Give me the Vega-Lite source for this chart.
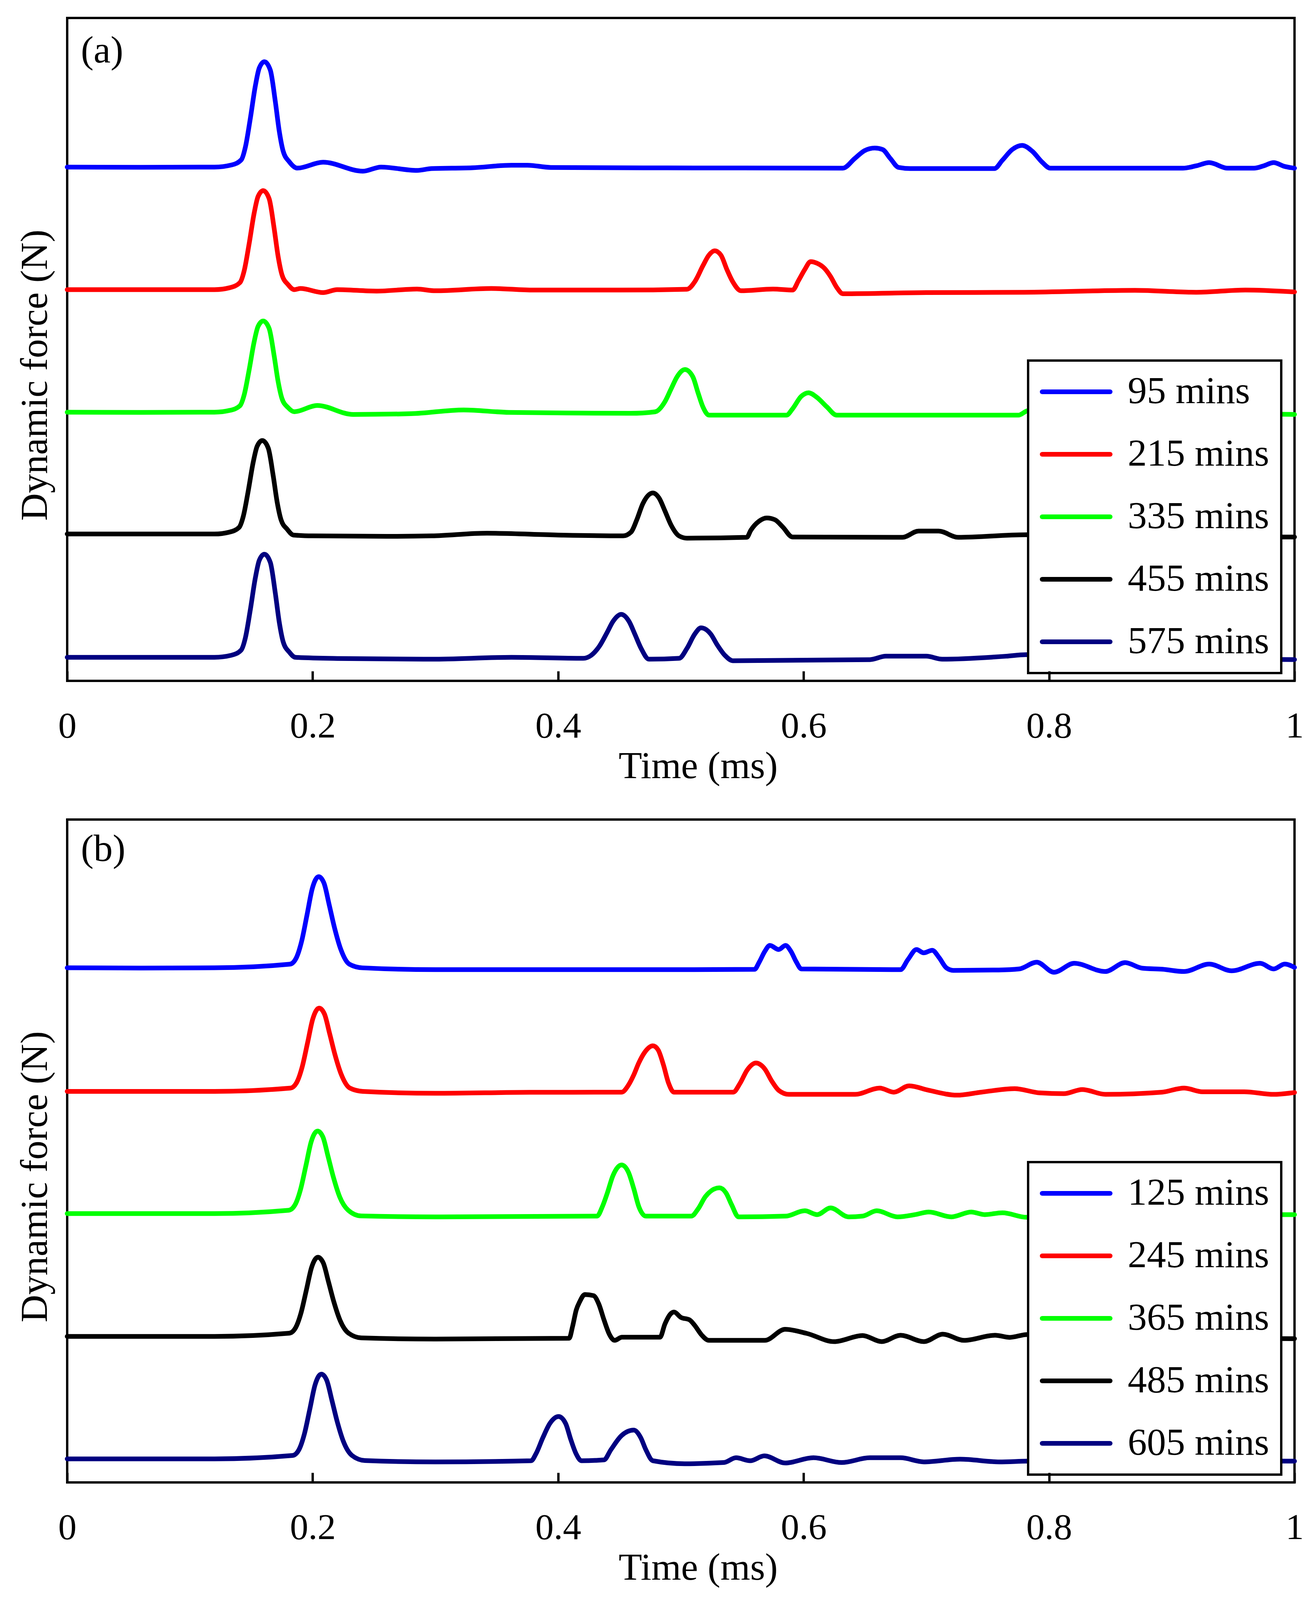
{
  "$schema": "https://vega.github.io/schema/vega-lite/v6.json",
  "usermeta": {"embedOptions": {"actions": false}},
  "background": "white",
  "padding": {"left": 38, "top": 43, "right": 56, "bottom": 30},
  "spacing": 81,
  "config": {
    "font": "Liberation Serif",
    "view": {"stroke": "black", "strokeWidth": 6},
    "axis": {"labelFont": "Liberation Serif", "titleFont": "Liberation Serif", "labelColor": "black", "titleColor": "black", "titleFontWeight": "normal", "grid": false, "domain": false},
    "legend": {"labelFont": "Liberation Serif"}
  },
  "resolve": {"scale": {"color": "independent"}, "legend": {"color": "independent"}},
  "datasets": {
    "a": [
      {"s":"95 mins","t":0,"f":7.751},{"s":"95 mins","t":0.06,"f":7.748},{"s":"95 mins","t":0.12,"f":7.751},{"s":"95 mins","t":0.134,"f":7.783},{"s":"95 mins","t":0.1419,"f":7.862},{"s":"95 mins","t":0.1452,"f":8.053},{"s":"95 mins","t":0.1492,"f":8.482},{"s":"95 mins","t":0.1533,"f":8.975},{"s":"95 mins","t":0.1565,"f":9.245},{"s":"95 mins","t":0.1607,"f":9.34},{"s":"95 mins","t":0.1655,"f":9.213},{"s":"95 mins","t":0.1696,"f":8.736},{"s":"95 mins","t":0.1728,"f":8.291},{"s":"95 mins","t":0.176,"f":7.989},{"s":"95 mins","t":0.181,"f":7.83},{"s":"95 mins","t":0.1875,"f":7.735},{"s":"95 mins","t":0.2085,"f":7.824},{"s":"95 mins","t":0.241,"f":7.689},{"s":"95 mins","t":0.2557,"f":7.751},{"s":"95 mins","t":0.285,"f":7.7},{"s":"95 mins","t":0.297,"f":7.728},{"s":"95 mins","t":0.33,"f":7.74},{"s":"95 mins","t":0.362,"f":7.779},{"s":"95 mins","t":0.375,"f":7.779},{"s":"95 mins","t":0.394,"f":7.745},{"s":"95 mins","t":0.45,"f":7.74},{"s":"95 mins","t":0.55,"f":7.737},{"s":"95 mins","t":0.632,"f":7.734},{"s":"95 mins","t":0.6417,"f":7.88},{"s":"95 mins","t":0.6497,"f":7.999},{"s":"95 mins","t":0.658,"f":8.038},{"s":"95 mins","t":0.6643,"f":8.016},{"s":"95 mins","t":0.6707,"f":7.88},{"s":"95 mins","t":0.6774,"f":7.745},{"s":"95 mins","t":0.687,"f":7.728},{"s":"95 mins","t":0.7555,"f":7.728},{"s":"95 mins","t":0.7619,"f":7.852},{"s":"95 mins","t":0.77,"f":8.016},{"s":"95 mins","t":0.778,"f":8.078},{"s":"95 mins","t":0.7864,"f":7.988},{"s":"95 mins","t":0.7944,"f":7.824},{"s":"95 mins","t":0.801,"f":7.734},{"s":"95 mins","t":0.85,"f":7.734},{"s":"95 mins","t":0.909,"f":7.734},{"s":"95 mins","t":0.92,"f":7.77},{"s":"95 mins","t":0.9305,"f":7.818},{"s":"95 mins","t":0.9455,"f":7.734},{"s":"95 mins","t":0.967,"f":7.734},{"s":"95 mins","t":0.975,"f":7.77},{"s":"95 mins","t":0.983,"f":7.818},{"s":"95 mins","t":0.992,"f":7.76},{"s":"95 mins","t":1,"f":7.734},
      {"s":"215 mins","t":0,"f":5.902},{"s":"215 mins","t":0.06,"f":5.902},{"s":"215 mins","t":0.12,"f":5.902},{"s":"215 mins","t":0.1327,"f":5.932},{"s":"215 mins","t":0.1407,"f":6.007},{"s":"215 mins","t":0.1442,"f":6.186},{"s":"215 mins","t":0.1482,"f":6.589},{"s":"215 mins","t":0.1523,"f":7.052},{"s":"215 mins","t":0.1555,"f":7.306},{"s":"215 mins","t":0.1597,"f":7.396},{"s":"215 mins","t":0.1645,"f":7.276},{"s":"215 mins","t":0.1686,"f":6.828},{"s":"215 mins","t":0.1718,"f":6.41},{"s":"215 mins","t":0.175,"f":6.126},{"s":"215 mins","t":0.18,"f":5.977},{"s":"215 mins","t":0.185,"f":5.902},{"s":"215 mins","t":0.19,"f":5.919},{"s":"215 mins","t":0.2085,"f":5.857},{"s":"215 mins","t":0.22,"f":5.902},{"s":"215 mins","t":0.252,"f":5.88},{"s":"215 mins","t":0.285,"f":5.91},{"s":"215 mins","t":0.3,"f":5.885},{"s":"215 mins","t":0.3456,"f":5.919},{"s":"215 mins","t":0.38,"f":5.895},{"s":"215 mins","t":0.45,"f":5.895},{"s":"215 mins","t":0.505,"f":5.908},{"s":"215 mins","t":0.5113,"f":6.02},{"s":"215 mins","t":0.518,"f":6.263},{"s":"215 mins","t":0.5228,"f":6.421},{"s":"215 mins","t":0.5276,"f":6.488},{"s":"215 mins","t":0.5327,"f":6.421},{"s":"215 mins","t":0.5375,"f":6.206},{"s":"215 mins","t":0.5423,"f":6.02},{"s":"215 mins","t":0.549,"f":5.885},{"s":"215 mins","t":0.575,"f":5.91},{"s":"215 mins","t":0.591,"f":5.895},{"s":"215 mins","t":0.596,"f":6.043},{"s":"215 mins","t":0.601,"f":6.206},{"s":"215 mins","t":0.6057,"f":6.325},{"s":"215 mins","t":0.6107,"f":6.302},{"s":"215 mins","t":0.617,"f":6.223},{"s":"215 mins","t":0.622,"f":6.099},{"s":"215 mins","t":0.627,"f":5.936},{"s":"215 mins","t":0.632,"f":5.84},{"s":"215 mins","t":0.7,"f":5.857},{"s":"215 mins","t":0.78,"f":5.862},{"s":"215 mins","t":0.87,"f":5.891},{"s":"215 mins","t":0.92,"f":5.862},{"s":"215 mins","t":0.96,"f":5.896},{"s":"215 mins","t":1,"f":5.867},
      {"s":"335 mins","t":0,"f":4.053},{"s":"335 mins","t":0.06,"f":4.05},{"s":"335 mins","t":0.12,"f":4.053},{"s":"335 mins","t":0.1327,"f":4.081},{"s":"335 mins","t":0.1407,"f":4.149},{"s":"335 mins","t":0.1442,"f":4.314},{"s":"335 mins","t":0.1482,"f":4.686},{"s":"335 mins","t":0.1523,"f":5.112},{"s":"335 mins","t":0.1555,"f":5.346},{"s":"335 mins","t":0.1597,"f":5.428},{"s":"335 mins","t":0.1645,"f":5.318},{"s":"335 mins","t":0.1686,"f":4.906},{"s":"335 mins","t":0.1718,"f":4.521},{"s":"335 mins","t":0.175,"f":4.259},{"s":"335 mins","t":0.18,"f":4.122},{"s":"335 mins","t":0.185,"f":4.06},{"s":"335 mins","t":0.2037,"f":4.154},{"s":"335 mins","t":0.233,"f":4.019},{"s":"335 mins","t":0.28,"f":4.03},{"s":"335 mins","t":0.323,"f":4.087},{"s":"335 mins","t":0.36,"f":4.05},{"s":"335 mins","t":0.42,"f":4.04},{"s":"335 mins","t":0.459,"f":4.036},{"s":"335 mins","t":0.479,"f":4.059},{"s":"335 mins","t":0.487,"f":4.211},{"s":"335 mins","t":0.492,"f":4.402},{"s":"335 mins","t":0.497,"f":4.589},{"s":"335 mins","t":0.5033,"f":4.696},{"s":"335 mins","t":0.5097,"f":4.589},{"s":"335 mins","t":0.514,"f":4.346},{"s":"335 mins","t":0.518,"f":4.132},{"s":"335 mins","t":0.523,"f":4.008},{"s":"335 mins","t":0.586,"f":4.008},{"s":"335 mins","t":0.591,"f":4.104},{"s":"335 mins","t":0.598,"f":4.29},{"s":"335 mins","t":0.604,"f":4.346},{"s":"335 mins","t":0.6107,"f":4.279},{"s":"335 mins","t":0.619,"f":4.132},{"s":"335 mins","t":0.627,"f":4.008},{"s":"335 mins","t":0.7,"f":4.008},{"s":"335 mins","t":0.775,"f":4.008},{"s":"335 mins","t":0.783,"f":4.076},{"s":"335 mins","t":0.83,"f":4.05},{"s":"335 mins","t":0.95,"f":4.03},{"s":"335 mins","t":1,"f":4.019},
      {"s":"455 mins","t":0,"f":2.215},{"s":"455 mins","t":0.06,"f":2.215},{"s":"455 mins","t":0.12,"f":2.215},{"s":"455 mins","t":0.132,"f":2.243},{"s":"455 mins","t":0.14,"f":2.314},{"s":"455 mins","t":0.1435,"f":2.483},{"s":"455 mins","t":0.1475,"f":2.864},{"s":"455 mins","t":0.1516,"f":3.301},{"s":"455 mins","t":0.1548,"f":3.54},{"s":"455 mins","t":0.159,"f":3.625},{"s":"455 mins","t":0.1638,"f":3.512},{"s":"455 mins","t":0.1679,"f":3.089},{"s":"455 mins","t":0.1711,"f":2.694},{"s":"455 mins","t":0.1743,"f":2.427},{"s":"455 mins","t":0.1793,"f":2.286},{"s":"455 mins","t":0.1843,"f":2.2},{"s":"455 mins","t":0.2,"f":2.187},{"s":"455 mins","t":0.26,"f":2.18},{"s":"455 mins","t":0.297,"f":2.187},{"s":"455 mins","t":0.342,"f":2.227},{"s":"455 mins","t":0.4,"f":2.2},{"s":"455 mins","t":0.453,"f":2.187},{"s":"455 mins","t":0.4594,"f":2.244},{"s":"455 mins","t":0.4641,"f":2.43},{"s":"455 mins","t":0.469,"f":2.672},{"s":"455 mins","t":0.4772,"f":2.835},{"s":"455 mins","t":0.4823,"f":2.756},{"s":"455 mins","t":0.487,"f":2.565},{"s":"455 mins","t":0.492,"f":2.351},{"s":"455 mins","t":0.4985,"f":2.187},{"s":"455 mins","t":0.505,"f":2.153},{"s":"455 mins","t":0.5537,"f":2.165},{"s":"455 mins","t":0.557,"f":2.272},{"s":"455 mins","t":0.5636,"f":2.407},{"s":"455 mins","t":0.57,"f":2.458},{"s":"455 mins","t":0.5767,"f":2.43},{"s":"455 mins","t":0.583,"f":2.322},{"s":"455 mins","t":0.591,"f":2.17},{"s":"455 mins","t":0.6806,"f":2.165},{"s":"455 mins","t":0.6937,"f":2.26},{"s":"455 mins","t":0.71,"f":2.26},{"s":"455 mins","t":0.726,"f":2.165},{"s":"455 mins","t":0.781,"f":2.204},{"s":"455 mins","t":0.85,"f":2.17},{"s":"455 mins","t":1,"f":2.17},
      {"s":"575 mins","t":0,"f":0.355},{"s":"575 mins","t":0.06,"f":0.355},{"s":"575 mins","t":0.12,"f":0.355},{"s":"575 mins","t":0.1337,"f":0.386},{"s":"575 mins","t":0.1417,"f":0.464},{"s":"575 mins","t":0.1452,"f":0.651},{"s":"575 mins","t":0.1492,"f":1.071},{"s":"575 mins","t":0.1533,"f":1.553},{"s":"575 mins","t":0.1565,"f":1.818},{"s":"575 mins","t":0.1607,"f":1.911},{"s":"575 mins","t":0.1655,"f":1.787},{"s":"575 mins","t":0.1696,"f":1.32},{"s":"575 mins","t":0.1728,"f":0.884},{"s":"575 mins","t":0.176,"f":0.588},{"s":"575 mins","t":0.181,"f":0.433},{"s":"575 mins","t":0.186,"f":0.355},{"s":"575 mins","t":0.22,"f":0.338},{"s":"575 mins","t":0.297,"f":0.327},{"s":"575 mins","t":0.362,"f":0.355},{"s":"575 mins","t":0.4205,"f":0.34},{"s":"575 mins","t":0.4268,"f":0.383},{"s":"575 mins","t":0.4335,"f":0.519},{"s":"575 mins","t":0.44,"f":0.733},{"s":"575 mins","t":0.4447,"f":0.896},{"s":"575 mins","t":0.4514,"f":1.003},{"s":"575 mins","t":0.4578,"f":0.896},{"s":"575 mins","t":0.4625,"f":0.705},{"s":"575 mins","t":0.4676,"f":0.49},{"s":"575 mins","t":0.474,"f":0.327},{"s":"575 mins","t":0.4986,"f":0.34},{"s":"575 mins","t":0.505,"f":0.49},{"s":"575 mins","t":0.5113,"f":0.705},{"s":"575 mins","t":0.5164,"f":0.8},{"s":"575 mins","t":0.5244,"f":0.705},{"s":"575 mins","t":0.5295,"f":0.547},{"s":"575 mins","t":0.536,"f":0.383},{"s":"575 mins","t":0.5423,"f":0.304},{"s":"575 mins","t":0.654,"f":0.32},{"s":"575 mins","t":0.667,"f":0.372},{"s":"575 mins","t":0.7,"f":0.372},{"s":"575 mins","t":0.713,"f":0.327},{"s":"575 mins","t":0.765,"f":0.372},{"s":"575 mins","t":0.781,"f":0.395},{"s":"575 mins","t":0.85,"f":0.35},{"s":"575 mins","t":1,"f":0.321}
    ],
    "b": [
      {"s":"125 mins","t":0,"f":7.763},{"s":"125 mins","t":0.06,"f":7.76},{"s":"125 mins","t":0.12,"f":7.763},{"s":"125 mins","t":0.1815,"f":7.818},{"s":"125 mins","t":0.1867,"f":7.914},{"s":"125 mins","t":0.191,"f":8.162},{"s":"125 mins","t":0.1954,"f":8.561},{"s":"125 mins","t":0.1997,"f":8.959},{"s":"125 mins","t":0.2049,"f":9.138},{"s":"125 mins","t":0.2092,"f":9.042},{"s":"125 mins","t":0.2135,"f":8.712},{"s":"125 mins","t":0.2178,"f":8.368},{"s":"125 mins","t":0.223,"f":8.038},{"s":"125 mins","t":0.2299,"f":7.818},{"s":"125 mins","t":0.2404,"f":7.763},{"s":"125 mins","t":0.3,"f":7.735},{"s":"125 mins","t":0.4,"f":7.735},{"s":"125 mins","t":0.5,"f":7.735},{"s":"125 mins","t":0.56,"f":7.74},{"s":"125 mins","t":0.564,"f":7.854},{"s":"125 mins","t":0.5684,"f":8.011},{"s":"125 mins","t":0.5725,"f":8.101},{"s":"125 mins","t":0.5797,"f":8.039},{"s":"125 mins","t":0.5853,"f":8.101},{"s":"125 mins","t":0.5897,"f":8.011},{"s":"125 mins","t":0.594,"f":7.854},{"s":"125 mins","t":0.5982,"f":7.746},{"s":"125 mins","t":0.679,"f":7.735},{"s":"125 mins","t":0.685,"f":7.887},{"s":"125 mins","t":0.692,"f":8.039},{"s":"125 mins","t":0.6978,"f":7.989},{"s":"125 mins","t":0.7048,"f":8.028},{"s":"125 mins","t":0.7105,"f":7.915},{"s":"125 mins","t":0.7163,"f":7.763},{"s":"125 mins","t":0.722,"f":7.724},{"s":"125 mins","t":0.759,"f":7.73},{"s":"125 mins","t":0.7756,"f":7.746},{"s":"125 mins","t":0.79,"f":7.848},{"s":"125 mins","t":0.804,"f":7.696},{"s":"125 mins","t":0.8205,"f":7.831},{"s":"125 mins","t":0.8457,"f":7.707},{"s":"125 mins","t":0.862,"f":7.842},{"s":"125 mins","t":0.8757,"f":7.758},{"s":"125 mins","t":0.8925,"f":7.741},{"s":"125 mins","t":0.91,"f":7.707},{"s":"125 mins","t":0.9305,"f":7.82},{"s":"125 mins","t":0.9487,"f":7.718},{"s":"125 mins","t":0.972,"f":7.831},{"s":"125 mins","t":0.983,"f":7.746},{"s":"125 mins","t":0.992,"f":7.82},{"s":"125 mins","t":1,"f":7.769},
      {"s":"245 mins","t":0,"f":5.899},{"s":"245 mins","t":0.06,"f":5.899},{"s":"245 mins","t":0.12,"f":5.899},{"s":"245 mins","t":0.1819,"f":5.949},{"s":"245 mins","t":0.1871,"f":6.037},{"s":"245 mins","t":0.1914,"f":6.263},{"s":"245 mins","t":0.1958,"f":6.627},{"s":"245 mins","t":0.2001,"f":6.992},{"s":"245 mins","t":0.2053,"f":7.155},{"s":"245 mins","t":0.2096,"f":7.067},{"s":"245 mins","t":0.2139,"f":6.766},{"s":"245 mins","t":0.2182,"f":6.452},{"s":"245 mins","t":0.2234,"f":6.15},{"s":"245 mins","t":0.2303,"f":5.949},{"s":"245 mins","t":0.2408,"f":5.899},{"s":"245 mins","t":0.3,"f":5.87},{"s":"245 mins","t":0.3765,"f":5.885},{"s":"245 mins","t":0.4517,"f":5.887},{"s":"245 mins","t":0.4573,"f":5.994},{"s":"245 mins","t":0.4616,"f":6.146},{"s":"245 mins","t":0.4657,"f":6.327},{"s":"245 mins","t":0.4702,"f":6.479},{"s":"245 mins","t":0.4772,"f":6.586},{"s":"245 mins","t":0.4815,"f":6.524},{"s":"245 mins","t":0.4858,"f":6.299},{"s":"245 mins","t":0.49,"f":6.023},{"s":"245 mins","t":0.4944,"f":5.887},{"s":"245 mins","t":0.5426,"f":5.887},{"s":"245 mins","t":0.5483,"f":6.023},{"s":"245 mins","t":0.554,"f":6.22},{"s":"245 mins","t":0.5612,"f":6.327},{"s":"245 mins","t":0.5684,"f":6.237},{"s":"245 mins","t":0.574,"f":6.056},{"s":"245 mins","t":0.5797,"f":5.915},{"s":"245 mins","t":0.588,"f":5.854},{"s":"245 mins","t":0.642,"f":5.854},{"s":"245 mins","t":0.662,"f":5.949},{"s":"245 mins","t":0.6736,"f":5.887},{"s":"245 mins","t":0.686,"f":5.983},{"s":"245 mins","t":0.702,"f":5.915},{"s":"245 mins","t":0.725,"f":5.842},{"s":"245 mins","t":0.7447,"f":5.887},{"s":"245 mins","t":0.772,"f":5.94},{"s":"245 mins","t":0.7925,"f":5.876},{"s":"245 mins","t":0.812,"f":5.865},{"s":"245 mins","t":0.827,"f":5.927},{"s":"245 mins","t":0.846,"f":5.854},{"s":"245 mins","t":0.892,"f":5.887},{"s":"245 mins","t":0.91,"f":5.949},{"s":"245 mins","t":0.925,"f":5.893},{"s":"245 mins","t":0.959,"f":5.893},{"s":"245 mins","t":0.983,"f":5.854},{"s":"245 mins","t":1,"f":5.882},
      {"s":"365 mins","t":0,"f":4.056},{"s":"365 mins","t":0.06,"f":4.056},{"s":"365 mins","t":0.12,"f":4.056},{"s":"365 mins","t":0.1806,"f":4.106},{"s":"365 mins","t":0.1858,"f":4.193},{"s":"365 mins","t":0.1901,"f":4.417},{"s":"365 mins","t":0.1945,"f":4.778},{"s":"365 mins","t":0.1988,"f":5.139},{"s":"365 mins","t":0.204,"f":5.301},{"s":"365 mins","t":0.2083,"f":5.214},{"s":"365 mins","t":0.2126,"f":4.915},{"s":"365 mins","t":0.2169,"f":4.604},{"s":"365 mins","t":0.2221,"f":4.305},{"s":"365 mins","t":0.229,"f":4.106},{"s":"365 mins","t":0.2395,"f":4.02},{"s":"365 mins","t":0.3,"f":4.006},{"s":"365 mins","t":0.4317,"f":4.017},{"s":"365 mins","t":0.436,"f":4.158},{"s":"365 mins","t":0.4402,"f":4.372},{"s":"365 mins","t":0.4445,"f":4.62},{"s":"365 mins","t":0.4517,"f":4.789},{"s":"365 mins","t":0.4573,"f":4.679},{"s":"365 mins","t":0.4616,"f":4.434},{"s":"365 mins","t":0.4658,"f":4.158},{"s":"365 mins","t":0.4715,"f":4.017},{"s":"365 mins","t":0.5085,"f":4.017},{"s":"365 mins","t":0.5142,"f":4.13},{"s":"365 mins","t":0.52,"f":4.312},{"s":"365 mins","t":0.5314,"f":4.445},{"s":"365 mins","t":0.537,"f":4.361},{"s":"365 mins","t":0.5413,"f":4.191},{"s":"365 mins","t":0.547,"f":4.006},{"s":"365 mins","t":0.5853,"f":4.017},{"s":"365 mins","t":0.601,"f":4.098},{"s":"365 mins","t":0.611,"f":4.04},{"s":"365 mins","t":0.622,"f":4.141},{"s":"365 mins","t":0.6366,"f":4.006},{"s":"365 mins","t":0.648,"f":4.017},{"s":"365 mins","t":0.6596,"f":4.098},{"s":"365 mins","t":0.6765,"f":4.006},{"s":"365 mins","t":0.6908,"f":4.04},{"s":"365 mins","t":0.702,"f":4.079},{"s":"365 mins","t":0.7205,"f":4.006},{"s":"365 mins","t":0.7365,"f":4.079},{"s":"365 mins","t":0.7475,"f":4.04},{"s":"365 mins","t":0.762,"f":4.068},{"s":"365 mins","t":0.7816,"f":4.0},{"s":"365 mins","t":0.85,"f":4.03},{"s":"365 mins","t":1,"f":4.04},
      {"s":"485 mins","t":0,"f":2.203},{"s":"485 mins","t":0.06,"f":2.203},{"s":"485 mins","t":0.12,"f":2.203},{"s":"485 mins","t":0.1809,"f":2.251},{"s":"485 mins","t":0.1861,"f":2.334},{"s":"485 mins","t":0.1904,"f":2.549},{"s":"485 mins","t":0.1948,"f":2.896},{"s":"485 mins","t":0.1991,"f":3.242},{"s":"485 mins","t":0.2043,"f":3.397},{"s":"485 mins","t":0.2086,"f":3.313},{"s":"485 mins","t":0.2129,"f":3.027},{"s":"485 mins","t":0.2172,"f":2.728},{"s":"485 mins","t":0.2224,"f":2.442},{"s":"485 mins","t":0.2293,"f":2.251},{"s":"485 mins","t":0.2398,"f":2.18},{"s":"485 mins","t":0.3,"f":2.163},{"s":"485 mins","t":0.409,"f":2.175},{"s":"485 mins","t":0.4118,"f":2.355},{"s":"485 mins","t":0.4148,"f":2.603},{"s":"485 mins","t":0.4175,"f":2.723},{"s":"485 mins","t":0.4218,"f":2.834},{"s":"485 mins","t":0.4288,"f":2.818},{"s":"485 mins","t":0.4331,"f":2.693},{"s":"485 mins","t":0.4374,"f":2.451},{"s":"485 mins","t":0.4417,"f":2.237},{"s":"485 mins","t":0.446,"f":2.143},{"s":"485 mins","t":0.452,"f":2.19},{"s":"485 mins","t":0.483,"f":2.19},{"s":"485 mins","t":0.487,"f":2.389},{"s":"485 mins","t":0.4916,"f":2.541},{"s":"485 mins","t":0.4944,"f":2.57},{"s":"485 mins","t":0.5,"f":2.49},{"s":"485 mins","t":0.5072,"f":2.451},{"s":"485 mins","t":0.5113,"f":2.369},{"s":"485 mins","t":0.517,"f":2.223},{"s":"485 mins","t":0.5228,"f":2.143},{"s":"485 mins","t":0.5684,"f":2.143},{"s":"485 mins","t":0.585,"f":2.31},{"s":"485 mins","t":0.6025,"f":2.248},{"s":"485 mins","t":0.625,"f":2.124},{"s":"485 mins","t":0.648,"f":2.216},{"s":"485 mins","t":0.6637,"f":2.124},{"s":"485 mins","t":0.679,"f":2.22},{"s":"485 mins","t":0.698,"f":2.124},{"s":"485 mins","t":0.7134,"f":2.237},{"s":"485 mins","t":0.7306,"f":2.143},{"s":"485 mins","t":0.756,"f":2.22},{"s":"485 mins","t":0.768,"f":2.188},{"s":"485 mins","t":0.782,"f":2.231},{"s":"485 mins","t":0.85,"f":2.18},{"s":"485 mins","t":1,"f":2.169},
      {"s":"605 mins","t":0,"f":0.355},{"s":"605 mins","t":0.06,"f":0.355},{"s":"605 mins","t":0.12,"f":0.355},{"s":"605 mins","t":0.1837,"f":0.406},{"s":"605 mins","t":0.1889,"f":0.496},{"s":"605 mins","t":0.1932,"f":0.726},{"s":"605 mins","t":0.1976,"f":1.097},{"s":"605 mins","t":0.2019,"f":1.468},{"s":"605 mins","t":0.2071,"f":1.634},{"s":"605 mins","t":0.2114,"f":1.544},{"s":"605 mins","t":0.2157,"f":1.238},{"s":"605 mins","t":0.22,"f":0.918},{"s":"605 mins","t":0.2252,"f":0.611},{"s":"605 mins","t":0.2321,"f":0.406},{"s":"605 mins","t":0.2426,"f":0.33},{"s":"605 mins","t":0.3,"f":0.31},{"s":"605 mins","t":0.378,"f":0.327},{"s":"605 mins","t":0.382,"f":0.434},{"s":"605 mins","t":0.3876,"f":0.676},{"s":"605 mins","t":0.3933,"f":0.89},{"s":"605 mins","t":0.4004,"f":0.994},{"s":"605 mins","t":0.4061,"f":0.89},{"s":"605 mins","t":0.4103,"f":0.648},{"s":"605 mins","t":0.4146,"f":0.434},{"s":"605 mins","t":0.419,"f":0.327},{"s":"605 mins","t":0.4374,"f":0.34},{"s":"605 mins","t":0.443,"f":0.493},{"s":"605 mins","t":0.4517,"f":0.707},{"s":"605 mins","t":0.4616,"f":0.789},{"s":"605 mins","t":0.4673,"f":0.676},{"s":"605 mins","t":0.4715,"f":0.493},{"s":"605 mins","t":0.4772,"f":0.327},{"s":"605 mins","t":0.503,"f":0.282},{"s":"605 mins","t":0.535,"f":0.3},{"s":"605 mins","t":0.545,"f":0.372},{"s":"605 mins","t":0.5565,"f":0.327},{"s":"605 mins","t":0.568,"f":0.4},{"s":"605 mins","t":0.585,"f":0.293},{"s":"605 mins","t":0.608,"f":0.372},{"s":"605 mins","t":0.631,"f":0.3},{"s":"605 mins","t":0.654,"f":0.372},{"s":"605 mins","t":0.679,"f":0.372},{"s":"605 mins","t":0.698,"f":0.31},{"s":"605 mins","t":0.7275,"f":0.35},{"s":"605 mins","t":0.7595,"f":0.31},{"s":"605 mins","t":0.782,"f":0.321},{"s":"605 mins","t":0.85,"f":0.33},{"s":"605 mins","t":1,"f":0.321}
    ]
  },
  "vconcat": [
    {
      "width": 3142,
      "height": 1697,
      "layer": [
        {
          "data": {"name": "a"},
          "mark": {"type": "line", "strokeWidth": 12, "strokeCap": "round", "strokeJoin": "round", "interpolate": "monotone"},
          "encoding": {
            "x": {"field": "t", "type": "quantitative", "scale": {"domain": [0, 1], "nice": false, "zero": false},
              "axis": {"title": "Time (ms)", "values": [0, 0.2, 0.4, 0.6, 0.8, 1], "format": "~g", "ticks": true, "tickSize": -25, "tickWidth": 6, "tickColor": "black", "zindex": 1, "labelFontSize": 94, "labelPadding": 95, "labelFlush": false, "titleFontSize": 98, "titlePadding": 8, "titleX": 1615}},
            "y": {"field": "f", "type": "quantitative", "scale": {"domain": [0, 10], "nice": false, "zero": false},
              "axis": {"title": "Dynamic force (N)", "labels": false, "ticks": false, "domain": false, "titleFontSize": 98, "titlePadding": 32, "titleY": 914}},
            "color": {"field": "s", "type": "nominal",
              "scale": {"domain": ["95 mins", "215 mins", "335 mins", "455 mins", "575 mins"], "range": ["#0000ff", "#ff0000", "#00ff00", "#000000", "#000080"]},
              "legend": {"orient": "none", "legendX": 2460, "legendY": 877, "title": null, "symbolType": "stroke", "symbolSize": 30276, "symbolStrokeWidth": 12, "clipHeight": 100, "rowPadding": 60, "labelFontSize": 98, "labelColor": "black", "labelOffset": 39, "labelLimit": 1000, "padding": 30, "strokeColor": "black", "fillColor": "white",
                "encode": {"legend": {"update": {"strokeWidth": {"value": 6}}}, "symbols": {"update": {"strokeCap": {"value": "round"}}}}}}
          }
        },
        {
          "data": {"values": [{"lab": "(a)", "t": 0.0111, "f": 9.329}]},
          "mark": {"type": "text", "fontSize": 98, "font": "Liberation Serif", "align": "left", "baseline": "alphabetic", "color": "black"},
          "encoding": {
            "x": {"field": "t", "type": "quantitative"},
            "y": {"field": "f", "type": "quantitative"},
            "text": {"field": "lab"}
          }
        }
      ]
    },
    {
      "width": 3142,
      "height": 1697,
      "layer": [
        {
          "data": {"name": "b"},
          "mark": {"type": "line", "strokeWidth": 12, "strokeCap": "round", "strokeJoin": "round", "interpolate": "monotone"},
          "encoding": {
            "x": {"field": "t", "type": "quantitative", "scale": {"domain": [0, 1], "nice": false, "zero": false},
              "axis": {"title": "Time (ms)", "values": [0, 0.2, 0.4, 0.6, 0.8, 1], "format": "~g", "ticks": true, "tickSize": -25, "tickWidth": 6, "tickColor": "black", "zindex": 1, "labelFontSize": 94, "labelPadding": 95, "labelFlush": false, "titleFontSize": 98, "titlePadding": 8, "titleX": 1615}},
            "y": {"field": "f", "type": "quantitative", "scale": {"domain": [0, 10], "nice": false, "zero": false},
              "axis": {"title": "Dynamic force (N)", "labels": false, "ticks": false, "domain": false, "titleFontSize": 98, "titlePadding": 32, "titleY": 914}},
            "color": {"field": "s", "type": "nominal",
              "scale": {"domain": ["125 mins", "245 mins", "365 mins", "485 mins", "605 mins"], "range": ["#0000ff", "#ff0000", "#00ff00", "#000000", "#000080"]},
              "legend": {"orient": "none", "legendX": 2460, "legendY": 877, "title": null, "symbolType": "stroke", "symbolSize": 30276, "symbolStrokeWidth": 12, "clipHeight": 100, "rowPadding": 60, "labelFontSize": 98, "labelColor": "black", "labelOffset": 39, "labelLimit": 1000, "padding": 30, "strokeColor": "black", "fillColor": "white",
                "encode": {"legend": {"update": {"strokeWidth": {"value": 6}}}, "symbols": {"update": {"strokeCap": {"value": "round"}}}}}}
          }
        },
        {
          "data": {"values": [{"lab": "(b)", "t": 0.0111, "f": 9.375}]},
          "mark": {"type": "text", "fontSize": 98, "font": "Liberation Serif", "align": "left", "baseline": "alphabetic", "color": "black"},
          "encoding": {
            "x": {"field": "t", "type": "quantitative"},
            "y": {"field": "f", "type": "quantitative"},
            "text": {"field": "lab"}
          }
        }
      ]
    }
  ]
}
